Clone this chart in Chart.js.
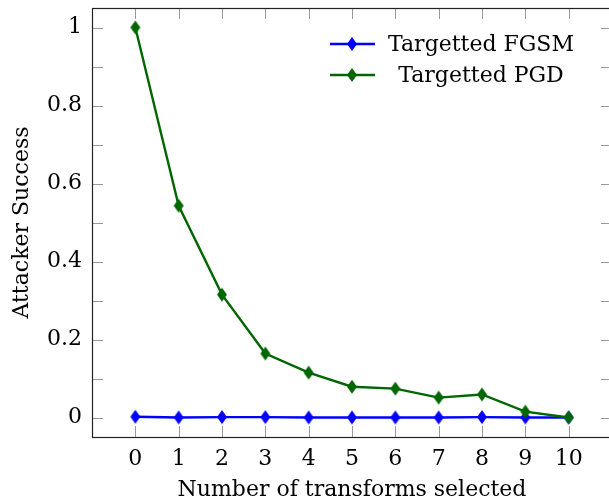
<!DOCTYPE html>
<html>
<head>
<meta charset="utf-8">
<script src="https://cdn.jsdelivr.net/npm/chart.js@4.4.0/dist/chart.umd.min.js"></script>
<style>
  html, body { margin: 0; padding: 0; background: #fff; overflow: hidden; }
  #wrap { width: 620px; height: 503px; }
</style>
</head>
<body>
<div id="wrap"><canvas id="myChart" width="620" height="503"></canvas></div>
<script>
(function () {
    "use strict";

    var transforms = [0, 1, 2, 3, 4, 5, 6, 7, 8, 9, 10];
    var fgsm = [0.002, 0.0, 0.001, 0.001, 0.0, 0.0, 0.0, 0.0, 0.001, 0.0, 0.0];
    var pgd = [1.0, 0.543, 0.315, 0.164, 0.115, 0.079, 0.074, 0.051, 0.059, 0.015, 0.0];
    var yTicks = [0, 0.2, 0.4, 0.6, 0.8, 1];
    var yMinorTicks = [0, 0.1, 0.2, 0.3, 0.4, 0.5, 0.6, 0.7, 0.8, 0.9, 1];
    var seriesNames = ['Targetted FGSM', 'Targetted PGD'];

    var BLUE = 'rgb(0, 0, 255)';
    var GREEN = 'rgb(0, 102, 0)';
    var FONT = '"DejaVu Serif", "Liberation Serif", serif';
    var FSIZE = 22;

    // tall diamond like pgfplots' "diamond*"
    function diamond(color) {
        var c = document.createElement('canvas');
        c.width = 12; c.height = 16;
        var g = c.getContext('2d');
        g.fillStyle = color;
        g.beginPath();
        g.moveTo(6, 1); g.lineTo(11, 8); g.lineTo(6, 15); g.lineTo(1, 8);
        g.closePath();
        g.fill();
        return c;
    }
    var blueMark = diamond(BLUE);
    var greenMark = diamond(GREEN);

    // frame, inward ticks and the legend
    var framePlugin = {
        id: 'frame',
        afterDatasetsDraw: function (chart) {
            var ctx = chart.ctx, a = chart.chartArea;
            var xs = chart.scales.x, ys = chart.scales.y;
            ctx.save();
            ctx.strokeStyle = '#999';
            ctx.lineWidth = 1;
            var len = 11;
            transforms.forEach(function (v) {
                var px = Math.round(xs.getPixelForValue(v)) + 0.5;
                ctx.beginPath();
                ctx.moveTo(px, a.bottom); ctx.lineTo(px, a.bottom - len);
                ctx.moveTo(px, a.top); ctx.lineTo(px, a.top + len);
                ctx.stroke();
            });
            yMinorTicks.forEach(function (v) {
                var py = Math.round(ys.getPixelForValue(v)) + 0.5;
                ctx.beginPath();
                ctx.moveTo(a.left, py); ctx.lineTo(a.left + len, py);
                ctx.moveTo(a.right, py); ctx.lineTo(a.right - len, py);
                ctx.stroke();
            });
            ctx.strokeStyle = '#222';
            ctx.lineWidth = 1.2;
            ctx.strokeRect(Math.round(a.left) + 0.5, Math.round(a.top) + 0.5,
                Math.round(a.right - a.left), Math.round(a.bottom - a.top));

            // legend
            var rows = [44, 75];
            var colors = [BLUE, GREEN];
            var marks = [blueMark, greenMark];
            ctx.font = FSIZE + 'px ' + FONT;
            ctx.fillStyle = '#000';
            ctx.textAlign = 'center';
            ctx.textBaseline = 'middle';
            rows.forEach(function (y, i) {
                ctx.strokeStyle = colors[i];
                ctx.lineWidth = 2.4;
                ctx.beginPath();
                ctx.moveTo(330, y); ctx.lineTo(375, y);
                ctx.stroke();
                ctx.drawImage(marks[i], 352 - 6, y - 8);
                ctx.fillText(seriesNames[i], 481, y + 1);
            });
            ctx.restore();
        }
    };

    var ctx = document.getElementById('myChart').getContext('2d');
    var chart = new Chart(ctx, {
        type: 'line',
        data: {
            labels: transforms,
            datasets: [
                {
                    label: seriesNames[1],
                    data: transforms.map(function (x, i) { return { x: x, y: pgd[i] }; }),
                    borderColor: GREEN,
                    backgroundColor: GREEN,
                    borderWidth: 2.4,
                    pointStyle: greenMark,
                    tension: 0
                },
                {
                    label: seriesNames[0],
                    data: transforms.map(function (x, i) { return { x: x, y: fgsm[i] }; }),
                    borderColor: BLUE,
                    backgroundColor: BLUE,
                    borderWidth: 2.4,
                    pointStyle: blueMark,
                    tension: 0
                }
            ]
        },
        options: {
            responsive: false,
            animation: false,
            layout: { padding: { left: 0, right: 8, top: 8, bottom: 0 } },
            plugins: {
                legend: { display: false },
                tooltip: { enabled: false }
            },
            scales: {
                x: {
                    type: 'linear',
                    min: -1,
                    max: 11,
                    afterBuildTicks: function (s) {
                        s.ticks = transforms.map(function (v) { return { value: v }; });
                    },
                    afterFit: function (s) {
                        s.height = 66;
                        s.paddingLeft = 0; s.paddingRight = 0;
                    },
                    grid: { display: false, drawTicks: false },
                    border: { display: false },
                    ticks: {
                        color: '#000',
                        padding: 9,
                        font: { family: FONT, size: FSIZE }
                    },
                    title: {
                        display: true,
                        text: 'Number of transforms selected',
                        color: '#000',
                        padding: { top: 0, bottom: 0 },
                        font: { family: FONT, size: FSIZE }
                    }
                },
                y: {
                    min: -0.05,
                    max: 1.05,
                    afterBuildTicks: function (s) {
                        s.ticks = yTicks.map(function (v) { return { value: v }; });
                    },
                    afterFit: function (s) {
                        s.width = 92;
                        s.paddingTop = 0; s.paddingBottom = 0;
                    },
                    grid: { display: false, drawTicks: false },
                    border: { display: false },
                    ticks: {
                        color: '#000',
                        padding: 10,
                        font: { family: FONT, size: FSIZE },
                        callback: function (v) { return String(Math.round(v * 10) / 10); }
                    },
                    title: {
                        display: true,
                        text: 'Attacker Success',
                        color: '#000',
                        padding: { top: 9, bottom: 0 },
                        font: { family: FONT, size: FSIZE }
                    }
                }
            }
        },
        plugins: [framePlugin]
    });
})();
</script>
</body>
</html>
